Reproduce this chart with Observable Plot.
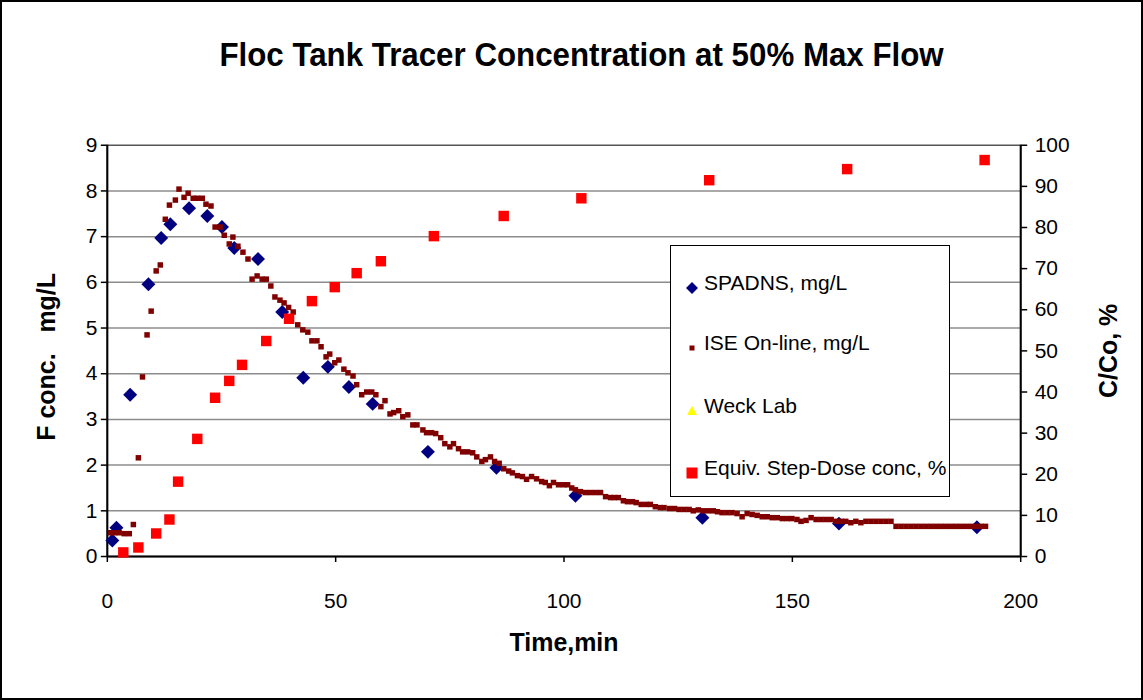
<!DOCTYPE html>
<html>
<head>
<meta charset="utf-8">
<script src="https://cdn.jsdelivr.net/npm/d3@7"></script>
<script src="https://cdn.jsdelivr.net/npm/@observablehq/plot@0.6"></script>
<style>
  html, body { margin: 0; padding: 0; background: #fff; }
  #wrap { position: relative; width: 1143px; height: 700px; box-sizing: border-box; border: 2px solid #000; overflow: hidden; font-family: "Liberation Sans", Arial, sans-serif; }
  #chart { position: absolute; left: -2px; top: -2px; }
  #title { position: absolute; left: 0; width: 1143px; top: 33px; text-align: center; font-weight: bold; font-size: 34px; color: #000; padding-left: 16px; box-sizing: border-box; transform: scaleX(0.92); transform-origin: 580px 0; }
  #legend { position: absolute; left: 668px; top: 243px; width: 280px; height: 252px; box-sizing: border-box; border: 1.5px solid #000; background: #fff; }
  .item { position: absolute; left: 0; height: 24px; display: flex; align-items: center; font-size: 21px; color: #000; }
  .item span.lbl { position: absolute; left: 33px; white-space: nowrap; }
  .mk { position: absolute; left: 14px; }
</style>
</head>
<body>
<div id="wrap">
  <div id="chart"></div>
  <div id="title">Floc Tank Tracer Concentration at 50% Max Flow</div>
  <div id="legend"></div>
</div>
<script>
// ---- data ----
const xTicks = [0, 50, 100, 150, 200];
const leftTicks = [0, 1, 2, 3, 4, 5, 6, 7, 8, 9];
const rightTicks = [0, 10, 20, 30, 40, 50, 60, 70, 80, 90, 100];

const spadnsTime = [1.1, 2.0, 5.0, 9.0, 11.8, 13.8, 17.9, 21.9, 25.1, 27.8, 33.0, 38.3, 42.9, 48.3, 52.9, 58.1, 70.2, 85.2, 102.5, 130.3, 160.2, 190.4];
const spadnsConc = [0.35, 0.63, 3.54, 5.96, 6.97, 7.27, 7.62, 7.45, 7.21, 6.75, 6.51, 5.35, 3.91, 4.15, 3.71, 3.34, 2.29, 1.94, 1.33, 0.85, 0.72, 0.64];

const iseTime = [0.7, 1.6, 2.6, 3.7, 4.8, 5.7, 6.8, 7.7, 8.7, 9.6, 10.7, 11.6, 12.7, 13.6, 14.9, 15.7, 16.8, 17.7, 18.8, 19.7,
  20.8, 21.6, 22.7, 23.6, 24.7, 25.6, 26.7, 27.5, 28.6, 29.7, 30.8, 31.7, 32.8, 33.9, 34.8, 35.8, 36.7, 37.8, 38.7, 39.7,
  40.7, 41.7, 42.8, 43.9, 44.8, 45.9, 46.8, 47.9, 48.7, 49.8, 50.7, 51.8, 52.7, 53.8, 54.6, 55.7, 56.8, 57.9, 58.8, 59.9,
  60.8, 61.9, 62.7, 63.8, 64.7, 65.8, 66.9, 67.8, 69.1, 69.9, 71.0, 71.9, 73.0, 73.9, 75.0, 75.8, 76.9, 77.8, 78.9, 80.0,
  80.9, 82.0, 82.8, 83.9, 84.8, 85.8, 86.8, 87.9, 88.7, 89.8, 90.9, 91.8, 92.9, 94.0, 95.1, 95.9, 96.8, 97.7, 98.8, 99.9,
  100.8, 101.7, 102.5, 103.6, 104.7, 105.8, 106.9, 108.0, 109.1, 110.2, 111.0, 111.9, 113.0, 113.9, 115.0, 115.8, 116.9, 118.0, 118.9, 120.0,
  121.1, 121.9, 123.1, 124.2, 125.2, 126.3, 127.4, 128.3, 129.4, 130.5, 131.6, 132.7, 133.6, 134.6, 135.7, 136.8, 137.9, 139.0, 140.1, 141.2,
  142.3, 143.4, 144.5, 145.6, 146.7, 147.8, 148.9, 149.9, 151.0, 151.9, 153.0, 154.1, 155.2, 156.3, 157.4, 158.5, 159.6, 160.7, 161.7, 162.8,
  163.9, 165.0, 166.1, 167.2, 168.3, 169.4, 170.5, 171.6, 172.7, 173.8, 174.9, 176.0, 177.1, 178.2, 179.3, 180.4, 181.5, 182.6, 183.7, 184.8,
  185.9, 187.0, 188.1, 189.2, 190.3, 191.3, 192.3];
const iseConc = [0.52, 0.52, 0.52, 0.50, 0.50, 0.70, 2.16, 3.93, 4.85, 5.37, 6.25, 6.38, 7.38, 7.69, 7.80, 8.04, 7.86, 7.95, 7.84, 7.84,
  7.84, 7.71, 7.67, 7.21, 7.21, 7.03, 6.84, 6.99, 6.79, 6.66, 6.51, 6.07, 6.14, 6.07, 6.07, 5.92, 5.68, 5.61, 5.55, 5.45,
  5.35, 5.07, 4.96, 4.91, 4.72, 4.72, 4.59, 4.37, 4.43, 4.24, 4.30, 4.10, 4.02, 3.95, 3.76, 3.54, 3.60, 3.60, 3.54, 3.28,
  3.41, 3.12, 3.15, 3.19, 3.06, 3.10, 2.88, 2.88, 2.77, 2.71, 2.71, 2.69, 2.60, 2.47, 2.40, 2.47, 2.36, 2.29, 2.29, 2.27,
  2.18, 2.08, 2.12, 2.18, 2.08, 2.04, 1.92, 1.87, 1.83, 1.77, 1.75, 1.69, 1.75, 1.70, 1.64, 1.62, 1.55, 1.62, 1.57, 1.57,
  1.57, 1.50, 1.46, 1.42, 1.40, 1.40, 1.40, 1.40, 1.31, 1.29, 1.29, 1.29, 1.22, 1.20, 1.20, 1.18, 1.14, 1.14, 1.14, 1.09,
  1.07, 1.07, 1.05, 1.05, 1.03, 1.03, 1.03, 1.00, 1.02, 1.00, 1.00, 1.00, 0.98, 0.96, 0.96, 0.96, 0.94, 0.87, 0.94, 0.92,
  0.90, 0.87, 0.87, 0.85, 0.85, 0.83, 0.83, 0.83, 0.81, 0.77, 0.79, 0.85, 0.81, 0.81, 0.81, 0.81, 0.77, 0.77, 0.77, 0.74,
  0.77, 0.74, 0.77, 0.77, 0.77, 0.77, 0.77, 0.77, 0.66, 0.66, 0.66, 0.66, 0.66, 0.66, 0.66, 0.66, 0.66, 0.66, 0.66, 0.66,
  0.66, 0.66, 0.66, 0.66, 0.66, 0.66, 0.66];

const stepTime = [3.5, 6.8, 10.7, 13.6, 15.5, 19.7, 23.6, 26.7, 29.5, 34.8, 39.8, 44.8, 49.8, 54.6, 59.9, 71.5, 86.8, 103.8, 131.8, 162.0, 192.1];
const stepPct = [1.0, 2.2, 5.6, 9.0, 18.2, 28.6, 38.6, 42.7, 46.6, 52.4, 57.8, 62.1, 65.5, 68.9, 71.8, 77.9, 82.8, 87.1, 91.5, 94.2, 96.4];

const legendLabels = ["SPADNS, mg/L", "ISE On-line, mg/L", "Weck Lab", "Equiv. Step-Dose conc, %"];

// ---- build tables ----
const pctToLeft = 9 / 100;
const spadns = spadnsTime.map((t, i) => ({t, v: spadnsConc[i]}));
const ise = iseTime.map((t, i) => ({t, v: iseConc[i]}));
const step = stepTime.map((t, i) => ({t, v: stepPct[i] * pctToLeft}));

const chart = Plot.plot({
  width: 1143,
  height: 700,
  marginLeft: 107,
  marginRight: 121,
  marginTop: 145,
  marginBottom: 143,
  style: {fontFamily: "'Liberation Sans', Arial, sans-serif", fontSize: "21px", color: "#000", background: "transparent", overflow: "visible"},
  x: {domain: [0, 200]},
  y: {domain: [0, 9]},
  marks: [
    Plot.ruleY(leftTicks.slice(1, -1), {stroke: "#8c8c8c", strokeWidth: 1.5}),
    Plot.frame({stroke: "#555", strokeWidth: 1.5}),
    Plot.axisX({ticks: xTicks, tickSize: 6, tickPadding: 31, label: null, fontSize: 21, stroke: "#000", strokeWidth: 1.5}),
    Plot.axisY({anchor: "left", ticks: leftTicks, tickSize: 6, tickPadding: 4, label: null, fontSize: 21, strokeWidth: 1.5}),
    Plot.axisY({anchor: "right", ticks: rightTicks.map(p => p * pctToLeft), tickFormat: d => String(Math.round(d / pctToLeft)), tickSize: 6, tickPadding: 8, label: null, fontSize: 21, strokeWidth: 1.5}),
    Plot.ruleX([0], {stroke: "#000", strokeWidth: 2}),
    Plot.ruleX([200], {stroke: "#000", strokeWidth: 2}),
    Plot.ruleY([0], {stroke: "#000", strokeWidth: 2}),
    Plot.dot(spadns, {x: "t", y: "v", symbol: "diamond2", r: 6.3, fill: "#000080", stroke: "none"}),
    Plot.dot(ise, {x: "t", y: "v", symbol: "square", r: 3.1, fill: "#800000", stroke: "none"}),
    Plot.dot(step, {x: "t", y: "v", symbol: "square", r: 5.9, fill: "#ff0000", stroke: "none"}),
    Plot.text(["F conc.\u00a0\u00a0 mg/L"], {frameAnchor: "left", textAnchor: "middle", dx: -60, dy: 6, rotate: -90, fontWeight: "bold", fontSize: 25}),
    Plot.text(["C/Co, %"], {frameAnchor: "right", textAnchor: "middle", dx: 88, rotate: -90, fontWeight: "bold", fontSize: 25}),
    Plot.text(["Time,min"], {frameAnchor: "bottom", textAnchor: "middle", dy: 95, fontWeight: "bold", fontSize: 25})
  ]
});
document.getElementById("chart").appendChild(chart);

// ---- legend ----
const legend = document.getElementById("legend");
const markers = [
  '<svg width="14" height="14" viewBox="-7 -7 14 14"><path d="M0,-6L6,0L0,6L-6,0Z" fill="#000080"/></svg>',
  '<svg width="14" height="14" viewBox="-7 -7 14 14"><rect x="-2.5" y="-2.5" width="5" height="5" fill="#800000"/></svg>',
  '<svg width="14" height="14" viewBox="-7 -7 14 14"><path d="M0,-5L5,4L-5,4Z" fill="#ffff00"/></svg>',
  '<svg width="14" height="14" viewBox="-7 -7 14 14"><rect x="-5.5" y="-5.5" width="11" height="11" fill="#ff0000"/></svg>'
];
const itemY = [37, 97, 160, 222];
legendLabels.forEach((lab, i) => {
  const d = document.createElement("div");
  d.className = "item";
  d.style.top = (itemY[i] - 12) + "px";
  d.innerHTML = '<span class="mk" style="top:5px">' + markers[i] + '</span><span class="lbl">' + lab + '</span>';
  legend.appendChild(d);
});
</script>
</body>
</html>
